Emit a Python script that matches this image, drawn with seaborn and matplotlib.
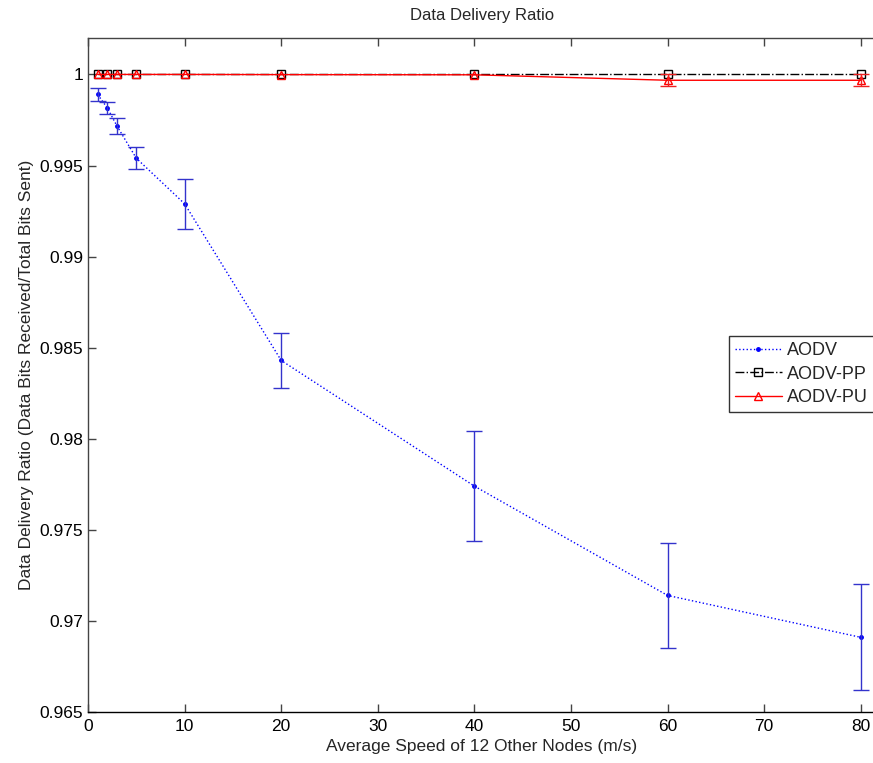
import matplotlib
matplotlib.use("Agg")
import matplotlib.pyplot as plt
import seaborn as sns
import pandas as pd
import numpy as np

# ---- data ----
speeds = [1, 2, 3, 5, 10, 20, 40, 60, 80]
aodv = [0.9989, 0.99816, 0.99717, 0.9954, 0.9929, 0.9843, 0.9774, 0.9714, 0.9691]
aodv_err = [0.00035, 0.00034, 0.00046, 0.0006, 0.00136, 0.0015, 0.0030, 0.0029, 0.0029]
aodv_pp = [1.0, 1.0, 1.0, 1.0, 1.0, 1.0, 1.0, 1.0, 1.0]
aodv_pp_err = [0, 0, 0, 0, 0, 0, 0, 0, 0]
aodv_pu = [1.0, 1.0, 1.0, 1.0, 1.0, 0.99999, 0.99998, 0.99968, 0.99968]
aodv_pu_err = [0, 0, 0, 0, 0, 0, 0, 0.00032, 0.00032]
series_names = ["AODV", "AODV-PP", "AODV-PU"]

title = "Data Delivery Ratio"
xlabel = "Average Speed of 12 Other Nodes (m/s)"
ylabel = "Data Delivery Ratio (Data Bits Received/Total Bits Sent)"
xticks = [0, 10, 20, 30, 40, 50, 60, 70, 80]
yticks = [0.965, 0.97, 0.975, 0.98, 0.985, 0.99, 0.995, 1.0]
ytick_labels = ["0.965", "0.97", "0.975", "0.98", "0.985", "0.99", "0.995", "1"]

df = pd.DataFrame({
    "speed": speeds * 3,
    "ratio": aodv + aodv_pp + aodv_pu,
    "err": aodv_err + aodv_pp_err + aodv_pu_err,
    "series": [series_names[0]] * len(speeds) + [series_names[1]] * len(speeds) + [series_names[2]] * len(speeds),
})

sns.set_theme(style="white")
plt.rcParams["font.family"] = ["Liberation Sans", "DejaVu Sans"]

W, H = 873, 763
fig = plt.figure(figsize=(W / 100, H / 100), dpi=100)
ax = fig.add_axes([88 / W, (H - 712) / H, (876 - 88) / W, (712 - 38) / H])

styles = {
    "AODV": dict(color="#0000ff", ls=":", marker=".", ms=5, mfc="#0000ff", mec="#0000ff", lw=1.0),
    "AODV-PP": dict(color="black", ls="-.", marker="s", ms=6, mfc="none", mec="black", lw=1.0),
    "AODV-PU": dict(color="#ff0000", ls="-", marker="^", ms=6, mfc="none", mec="#ff0000", lw=1.0),
}
ecolors = {"AODV": "#3333cc", "AODV-PP": "black", "AODV-PU": "#ee2020"}

for name in series_names:
    sub = df[df["series"] == name]
    st = styles[name]
    sns.lineplot(data=sub, x="speed", y="ratio", ax=ax, color=st["color"],
                 linestyle=st["ls"], marker=st["marker"], markersize=st["ms"],
                 markerfacecolor=st["mfc"], markeredgecolor=st["mec"],
                 markeredgewidth=1.0, linewidth=st["lw"], label=name, errorbar=None)
    if any(e > 0 for e in sub["err"]):
        m = sub["err"] > 0
        ax.errorbar(sub["speed"][m], sub["ratio"][m], yerr=sub["err"][m], fmt="none",
                    ecolor=ecolors[name], elinewidth=1.0, capsize=6, capthick=1.0)

ax.set_xlim(0, (876 - 88) / 9.659)
ax.set_ylim(0.965, 1.002)
ax.set_xticks(xticks)
ax.set_yticks(yticks)
ax.set_yticklabels(ytick_labels)
ax.tick_params(axis="both", direction="in", length=6, width=1, colors="#444444",
               labelcolor="black", labelsize=12.5, top=True, bottom=True, left=True, right=False)
ax.tick_params(axis="x", pad=5)
for s in ["left", "top", "bottom"]:
    ax.spines[s].set_color("#444444")
    ax.spines[s].set_linewidth(1.0)
ax.spines["bottom"].set_color("black")
ax.spines["right"].set_visible(False)

ax.set_title(title, fontsize=12, pad=13)
ax.set_xlabel(xlabel, fontsize=12.5, labelpad=4)
ax.set_ylabel(ylabel, fontsize=12.5, labelpad=4)

leg = ax.legend(loc="upper left", bbox_to_anchor=(0.813, 0.558), frameon=True,
                fancybox=False, edgecolor="black", fontsize=13, handlelength=2.6,
                handletextpad=0.3, borderpad=0.35, labelspacing=0.35, borderaxespad=0)
leg.get_frame().set_linewidth(1.0)

fig.savefig("out.png", dpi=100)
